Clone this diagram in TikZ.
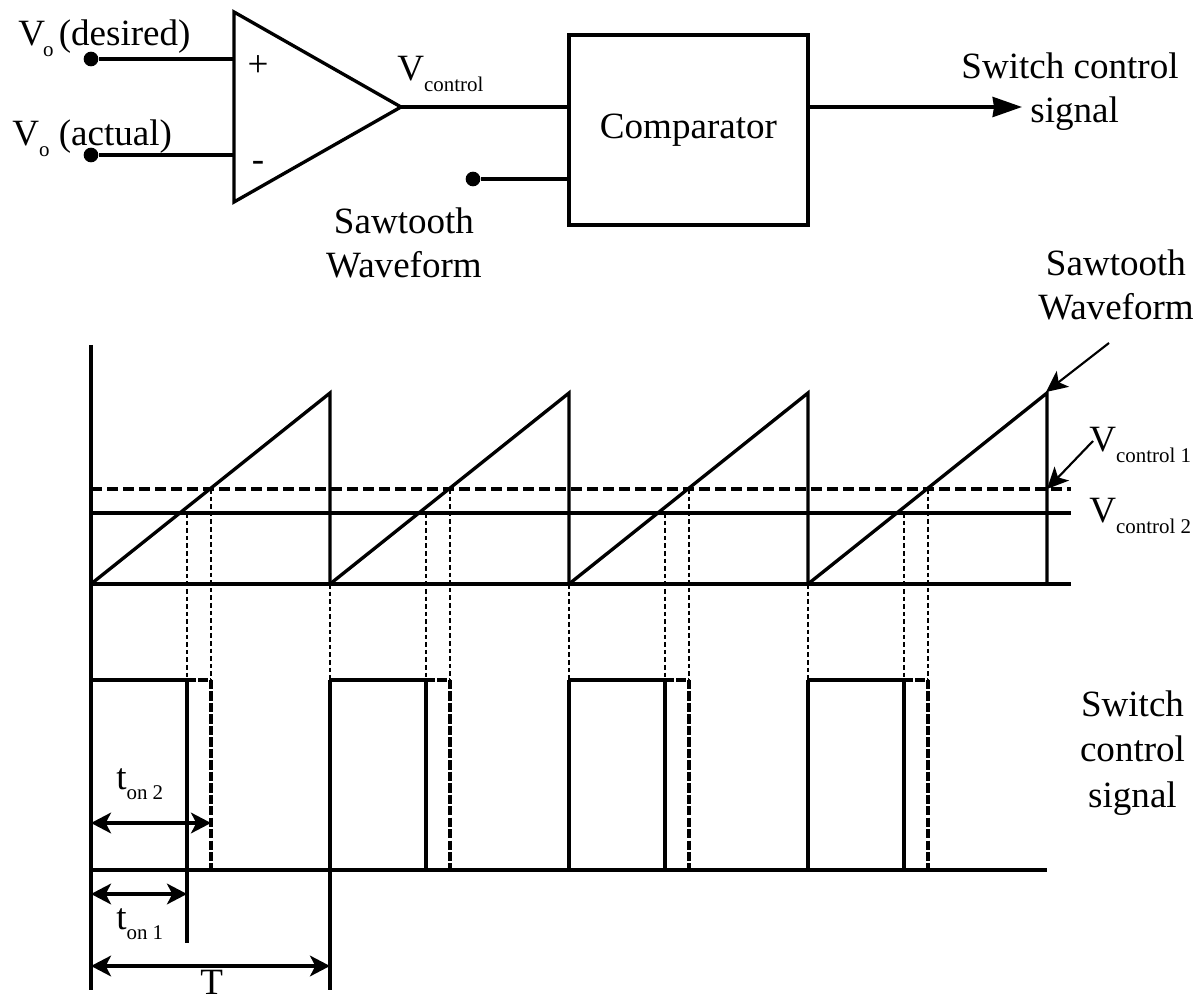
\documentclass[tikz,border=0pt]{standalone}
\usepackage{fontspec}
\setmainfont{Liberation Serif}
\usepackage{tikz}
\usetikzlibrary{arrows.meta,positioning,calc}
\newcommand{\lowsub}[1]{\raisebox{-8pt}{\fontsize{15.7}{16}\selectfont #1}}
\tikzset{
  lbl/.style={inner sep=0pt,align=center,font=\fontsize{27.8}{33}\selectfont},
  tag/.style={lbl,anchor=base west},
  wire/.style={line width=2.5pt},
  dot/.style={circle,fill=black,inner sep=0pt,minimum size=11pt},
  block/.style={draw,line width=2.5pt,inner sep=0pt,minimum width=179.25pt,minimum height=142.5pt,lbl},
  level/.style={wire,dash pattern=on 8pt off 4pt},
  drop/.style={line width=1.2pt,dash pattern=on 3.5pt off 2.2pt},
  off/.style={line width=2.4pt,dash pattern=on 7pt off 1.6pt},
  span/.style={{Stealth[length=15pt,width=15.5pt,inset=4pt]}-{Stealth[length=15pt,width=15.5pt,inset=4pt]},wire},
  flow/.style={-{Stealth[length=22pt,width=15pt,inset=1pt]},wire},
  pointer/.style={-{Stealth[length=16pt,width=15pt,inset=4pt]},line width=1.6pt},
}
\begin{document}
\begin{tikzpicture}[x=.75pt,y=-.75pt]
  \useasboundingbox (0,0) rectangle (1204,994);
  \coordinate (ampTop) at (234,12);
  \coordinate (ampBot) at (234,202);
  \coordinate (ampOut) at (401,107);
  \draw[wire,line join=miter] (ampTop) -- (ampOut) -- (ampBot) -- cycle;
  \coordinate (ampPlus) at (234,59);
  \coordinate (ampMinus) at (234,155);
  \node[dot] (desired) at (91,59) {};
  \node[dot] (actual) at (91,155) {};
  \node[dot] (saw) at (473,179) {};
  \node[block] (comp) at (688.5,130) {\raisebox{-1.5pt}{Comparator}};
  \coordinate (swEnd) at (1022,107);
  \draw[wire] (desired) -- (ampPlus);
  \draw[wire] (actual) -- (ampMinus);
  \draw[wire] (ampOut) -- (ampOut -| comp.west);
  \draw[wire] (saw) -- (saw -| comp.west);
  \draw[flow] (swEnd -| comp.east) -- (swEnd);
  \node[lbl] (plus) at (258,66) {+};
  \node[lbl] (minus) at (258,166) {-};
  \node[tag] (desiredLbl) at (18,46) {V\kern-1.5pt\lowsub{o}\hspace{4pt}(desired)};
  \node[tag] (actualLbl) at (12,146) {V\lowsub{o} (actual)};
  \node[tag] (ctrlLbl) at (397,81) {V\lowsub{control}};
  \node[lbl] (sawLbl) at (404,243) {Sawtooth\\Waveform};
  \node[lbl] (swLbl) at (1070,91.5) {Switch control\\\hspace*{7pt}signal};
  \draw[wire] (91,345) -- (91,990);
  \node[inner sep=0pt] (base) at (91,584) {};
  \draw[wire] (base.center) -- ++(980,0);
  \node[inner sep=0pt] (ctrlA) at (91,489) {};
  \node[inner sep=0pt] (ctrlB) at (91,513) {};
  \draw[level] (ctrlA.center) -- ++(980,0);
  \draw[wire] (ctrlB.center) -- ++(980,0);
  \foreach \x in {91,330,569,808} {
    \draw[wire,line join=miter] (\x,584) -- ++(239,-191) -- ++(0,191);
    \draw[drop] (\x+96,513) -- (\x+96,680);
    \draw[drop] (\x+120,489) -- (\x+120,680);
    \draw[wire] (\x,680) -- (\x+96,680);
    \draw[off] (\x+96,680) -- (\x+120,680);
    \draw[off] (\x+120,680) -- (\x+120,870);
  }
  \foreach \x in {330,569,808} {
    \draw[drop] (\x,584) -- (\x,680);
    \draw[wire] (\x,680) -- (\x,870);
  }
  \foreach \x in {426,665,904} {
    \draw[wire] (\x,680) -- (\x,870);
  }
  \draw[wire] (91,870) -- (1047,870);
  \draw[wire] (187,680) -- (187,943);
  \draw[wire] (330,870) -- (330,990);
  \coordinate (onTwoL) at (91,823);
  \coordinate (onTwoR) at (211,823);
  \coordinate (onOneL) at (91,894);
  \coordinate (onOneR) at (187,894);
  \coordinate (perL) at (91,966);
  \coordinate (perR) at (330,966);
  \draw[span] (onTwoL) -- (onTwoR);
  \draw[span] (onOneL) -- (onOneR);
  \draw[span] (perL) -- (perR);
  \node[tag] (onTwoLbl) at (116,789) {t\lowsub{on 2}};
  \node[tag] (onOneLbl) at (116,929) {t\lowsub{on 1}};
  \node[tag] (perLbl) at (200,994) {T};
  \coordinate (sawTip) at (1046,392);
  \coordinate (sawTail) at (1109,343);
  \coordinate (oneTip) at (1047,489);
  \coordinate (oneTail) at (1093,441);
  \draw[pointer] (sawTail) -- (sawTip);
  \draw[pointer] (oneTail) -- (oneTip);
  \node[lbl] (sawRight) at (1116,285) {Sawtooth\\Waveform};
  \node[tag] (oneLbl) at (1089,452) {V\lowsub{control 1}};
  \node[tag] (twoLbl) at (1089,523) {V\lowsub{control 2}};
  \node[lbl,text width=110pt] (swRight) at (1132.5,753) {Switch\\[1pt]control\\[1pt]signal};
\end{tikzpicture}
\end{document}
